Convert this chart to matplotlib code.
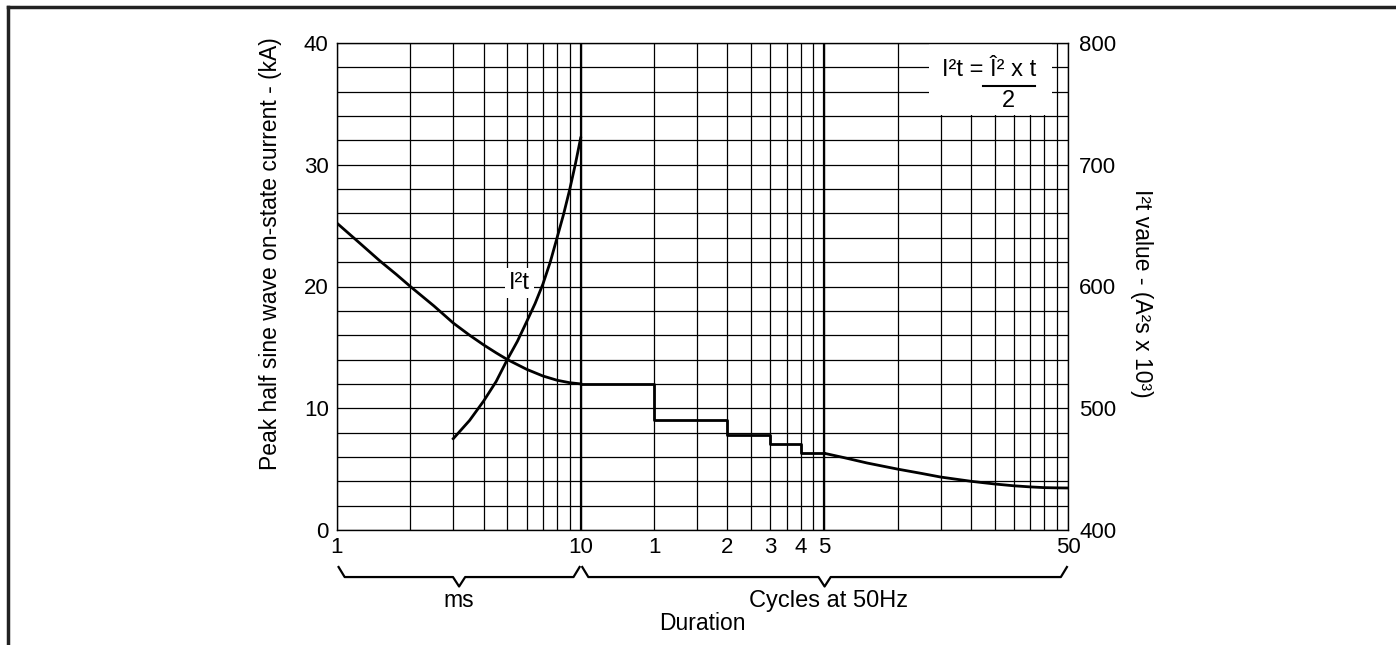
import numpy as np
import matplotlib
matplotlib.use("Agg")
import matplotlib.pyplot as plt
from matplotlib.lines import Line2D
from matplotlib.patches import Rectangle
from matplotlib.transforms import blended_transform_factory

plt.rcParams['font.family'] = ['Liberation Sans', 'DejaVu Sans']

# peak current, smooth part (duration in ms, kA)
t_ms = [1, 1.25, 1.5, 1.75, 2, 2.5, 3, 3.5, 4, 4.5, 5, 6, 7, 8, 9, 10]
ipk_ms = [25.2, 23.5, 22.1, 21.0, 20.0, 18.4, 17.0, 16.0, 15.2, 14.55, 14.0,
          13.2, 12.65, 12.3, 12.1, 12.0]

# peak current, stepped part (duration in cycles at 50Hz, kA)
step_cycles = [0.5, 1, 2, 3, 4, 5]
step_ka = [12.0, 9.0, 7.8, 7.1, 6.3, 6.3]

# peak current, tail (cycles, kA)
tail_cycles = [5, 6, 7.5, 10, 12.5, 15, 20, 25, 30, 35, 40, 45, 50]
tail_ka = [6.3, 5.95, 5.5, 5.0, 4.65, 4.35, 4.0, 3.78, 3.63, 3.54, 3.48, 3.46, 3.45]

# I2t curve (ms, A2s x 10^3)
i2t_ms = [3, 3.5, 4, 4.5, 5, 5.5, 6, 6.5, 7, 7.5, 8, 8.5, 9, 9.5, 10]
i2t_val = [475, 490, 506, 522, 540, 555, 571, 586, 602, 620, 640, 659, 679, 700, 722]

x_ticks = [1, 10, 20, 40, 60, 80, 100, 1000]
x_ticklabels = ['1', '10', '1', '2', '3', '4', '5', '50']

ms_per_cycle = 20.0
fs = 16.5

fig = plt.figure(figsize=(13.96, 6.45), dpi=100)
ax = fig.add_axes([337/1396, 1-530/645, 731/1396, 487/645])

# gridlines
minor_x = [m*d for d in (1, 10, 100) for m in range(2, 10)]
ax.set_xscale('log')
ax.set_xlim(1, 1000)
ax.set_ylim(0, 40)
ax.set_xticks(x_ticks)
ax.set_xticklabels(x_ticklabels)
ax.set_xticks(minor_x, minor=True)
ax.set_xticklabels([], minor=True)
ax.set_yticks(np.arange(0, 41, 10))
ax.set_yticks(np.arange(0, 41, 2), minor=True)
ax.grid(True, which='both', color='black', lw=0.9)
ax.axvline(10, color='black', lw=1.6, zorder=1)
ax.axvline(100, color='black', lw=1.6, zorder=1)
ax.set_axisbelow(True)
ax.tick_params(which='both', length=0, labelsize=16)
ax.tick_params(axis='x', pad=5)
ax.tick_params(axis='y', pad=6)
for s in ax.spines.values():
    s.set_linewidth(1.0)

# peak current curve
ax.plot(t_ms, ipk_ms, color='black', lw=2.0, zorder=3)
ax.plot(np.array(step_cycles)*ms_per_cycle, step_ka, color='black', lw=2.0,
        drawstyle='steps-post', zorder=3)
ax.plot(np.array(tail_cycles)*ms_per_cycle, tail_ka, color='black', lw=2.0, zorder=3)

# right axis with I2t
ax2 = ax.twinx()
ax2.set_ylim(400, 800)
ax2.set_yticks(np.arange(400, 801, 100))
ax2.tick_params(length=0, labelsize=16, pad=8)
ax2.plot(i2t_ms, i2t_val, color='black', lw=2.0, zorder=3)
for s in ax2.spines.values():
    s.set_visible(False)

# label on the curve
ax.text(5.6, 20.3, 'I\u00b2t', fontsize=17, ha='center', va='center', zorder=4,
        bbox=dict(facecolor='white', edgecolor='none', pad=3))

# formula box
ax.add_patch(Rectangle((0.81, 0.852), 0.168, 0.148, transform=ax.transAxes,
                       facecolor='white', edgecolor='none', zorder=2))
ax.text(0.956, 0.945, 'I\u00b2t = \u00ce\u00b2 x t', transform=ax.transAxes, fontsize=17,
        ha='right', va='center', zorder=4)
ax.plot([0.884, 0.955], [0.912, 0.912], transform=ax.transAxes, color='black',
        lw=1.5, zorder=4)
ax.text(0.918, 0.881, '2', transform=ax.transAxes, fontsize=17,
        ha='center', va='center', zorder=4)

# braces under the axis
tr = blended_transform_factory(ax.transData, ax.transAxes)


def brace(x0, x1, top=-0.076, bot=-0.0966, tip=-0.116, d=0.025):
    l0, l1 = np.log10(x0), np.log10(x1)
    lm = (l0 + l1) / 2
    xs = [l0, l0 + d, lm - d, lm, lm + d, l1 - d, l1]
    ys = [top, bot, bot, tip, bot, bot, top]
    ax.plot(10**np.array(xs), ys, transform=tr, color='black', lw=1.6,
            clip_on=False, solid_joinstyle='round')


brace(1.015, 9.9)
brace(10.15, 990)
ax.text(10**0.5, -0.145, 'ms', transform=tr, fontsize=fs, ha='center', va='center')
ax.text(104, -0.145, 'Cycles at 50Hz', transform=tr, fontsize=17, ha='center', va='center')
fig.text(702/1396, 1-624/645, 'Duration', fontsize=fs, ha='center', va='center')

# axis titles
fig.text(270/1396, 1-254/645, 'Peak half sine wave on-state current - (kA)',
         fontsize=fs, rotation=90, ha='center', va='center')
fig.text(1141/1396, 1-293/645, 'I\u00b2t value - (A\u00b2s x 10\u00b3)',
         fontsize=fs, rotation=270, ha='center', va='center')

# page frame
fig.add_artist(Line2D([8/1396, 1], [1-7/645, 1-7/645], color='#222222', lw=2.5))
fig.add_artist(Line2D([8/1396, 8/1396], [0, 1-7/645], color='#222222', lw=2.5))

fig.savefig('out.png', dpi=100)
